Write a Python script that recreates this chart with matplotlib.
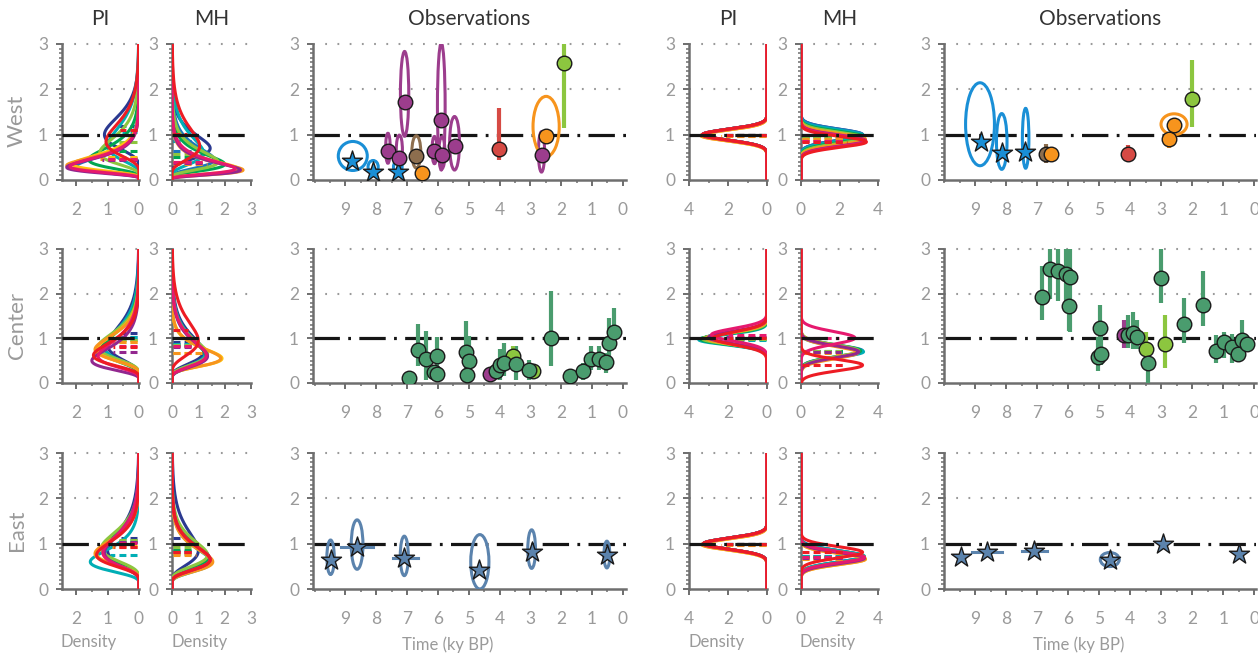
import numpy as np
import matplotlib
matplotlib.use("Agg")
import matplotlib.pyplot as plt
from matplotlib.patches import Ellipse
from matplotlib.ticker import MultipleLocator

plt.rcParams["font.family"] = ["Lato", "DejaVu Sans"]
plt.rcParams["lines.scale_dashes"] = False

W, H = 1258, 655

regions = ["West", "Center", "East"]

# model colours: navy, blue, cyan, green, light green, yellow, orange, purple, magenta, red
model_colors = ["#2b3990", "#1c75bc", "#00aeb5", "#00a651", "#8dc63f",
                "#ffc20e", "#f7941d", "#92278f", "#e6196e", "#ed1c24"]

# left block (skewed densities): mode and peak density per model, rows West/Center/East
left_pi_mode = [[1.0, 0.3, 0.75, 0.45, 0.6, 0.35, 0.32, 0.28, 0.3, 0.85],
                [0.85, 0.8, 0.8, 0.75, 0.8, 0.75, 0.75, 0.5, 0.6, 0.62],
                [0.85, 0.8, 0.6, 0.85, 0.9, 0.78, 0.78, 0.8, 0.8, 0.75]]
left_pi_peak = [[1.1, 2.0, 1.0, 1.6, 1.25, 2.1, 2.3, 2.3, 2.2, 1.05],
                [1.0, 1.1, 1.1, 1.2, 1.3, 1.35, 1.4, 1.5, 1.3, 1.45],
                [1.0, 1.1, 1.55, 1.15, 1.2, 1.35, 1.4, 1.1, 1.15, 1.35]]
left_mh_mode = [[0.7, 0.45, 0.6, 0.35, 0.4, 0.25, 0.22, 0.22, 0.25, 0.75],
                [0.7, 0.65, 0.65, 0.6, 0.65, 0.55, 0.55, 0.6, 0.62, 0.95],
                [0.85, 0.65, 0.6, 0.7, 0.75, 0.62, 0.6, 0.65, 0.65, 0.65]]
left_mh_peak = [[1.45, 1.6, 1.2, 2.0, 1.75, 2.5, 2.7, 2.6, 2.4, 1.05],
                [1.2, 1.3, 1.25, 1.3, 1.35, 1.9, 1.85, 1.35, 1.3, 1.0],
                [1.0, 1.4, 1.5, 1.4, 1.35, 1.5, 1.55, 1.45, 1.45, 1.45]]

# right block (near-gaussian densities): mean and peak density per model
right_pi_mean = [[1.0, 1.0, 1.0, 1.0, 1.0, 0.98, 0.98, 1.0, 1.0, 1.0],
                 [1.0, 1.0, 0.97, 0.98, 0.99, 1.0, 1.0, 1.02, 1.08, 1.0],
                 [1.0, 1.0, 1.0, 1.0, 1.0, 0.98, 0.98, 1.0, 1.0, 1.0]]
right_pi_peak = [[3.3, 3.3, 3.3, 3.3, 3.3, 3.35, 3.4, 3.3, 3.3, 3.3],
                 [3.2, 3.2, 3.5, 3.4, 3.3, 3.1, 3.1, 3.0, 2.85, 2.75],
                 [3.25, 3.25, 3.25, 3.25, 3.25, 3.3, 3.35, 3.25, 3.25, 3.25]]
right_mh_mean = [[1.0, 1.0, 0.98, 0.95, 0.93, 0.9, 0.9, 0.87, 0.86, 0.84],
                 [0.7, 0.72, 0.7, 0.72, 0.72, 0.7, 0.68, 0.7, 1.01, 0.4],
                 [0.72, 0.72, 0.72, 0.7, 0.7, 0.66, 0.66, 0.68, 0.7, 0.81]]
right_mh_peak = [[3.2, 3.2, 3.25, 3.3, 3.3, 3.35, 3.35, 3.35, 3.35, 3.4],
                 [3.1, 3.2, 3.25, 3.1, 3.0, 2.9, 2.95, 3.0, 2.8, 3.2],
                 [3.2, 3.25, 3.3, 3.3, 3.3, 3.35, 3.35, 3.3, 3.3, 3.2]]

# observation categories -> colour, marker
cat_color = {"c1": "#1a8fd6", "c2": "#9c3d8d", "c3": "#8d6e4e", "c4": "#f7941d",
             "c5": "#d64a44", "c6": "#8cc63f", "c7": "#4a9c6e", "c8": "#5b83ad"}
cat_marker = {"c1": "*", "c2": "o", "c3": "o", "c4": "o",
              "c5": "o", "c6": "o", "c7": "o", "c8": "*"}

# observations, left block: (time ky BP, value, category)
obs_left_points = [
    [(8.78, 0.43, "c1"), (8.11, 0.18, "c1"), (7.3, 0.18, "c1"),
     (7.62, 0.63, "c2"), (7.25, 0.48, "c2"), (7.08, 1.73, "c2"), (6.7, 0.53, "c3"),
     (6.51, 0.16, "c4"), (6.11, 0.63, "c2"), (5.89, 1.32, "c2"), (5.87, 0.55, "c2"),
     (5.46, 0.75, "c2"), (4.02, 0.68, "c5"), (2.64, 0.55, "c2"), (2.48, 0.96, "c4"),
     (1.92, 2.59, "c6")],
    [(6.93, 0.11, "c7"), (6.63, 0.73, "c7"), (6.39, 0.54, "c7"), (6.14, 0.25, "c7"),
     (6.03, 0.6, "c7"), (6.03, 0.21, "c7"), (5.09, 0.69, "c7"), (5.0, 0.49, "c7"),
     (5.04, 0.17, "c7"), (4.3, 0.21, "c2"), (4.12, 0.26, "c7"), (3.98, 0.41, "c7"),
     (3.58, 0.6, "c6"), (3.85, 0.45, "c7"), (3.47, 0.43, "c7"), (2.93, 0.26, "c6"),
     (3.06, 0.28, "c7"), (2.32, 1.0, "c7"), (1.73, 0.15, "c7"), (1.29, 0.26, "c7"),
     (1.05, 0.54, "c7"), (0.78, 0.54, "c7"), (0.56, 0.47, "c7"), (0.45, 0.9, "c7"),
     (0.29, 1.14, "c7")],
    [(9.48, 0.65, "c8"), (8.62, 0.92, "c8"), (7.09, 0.69, "c8"), (4.67, 0.43, "c8"),
     (2.96, 0.82, "c8"), (0.52, 0.75, "c8")],
]
# uncertainty ellipses: (centre time, centre value, time width, value height, category)
obs_left_ellipses = [
    [(8.76, 0.53, 0.94, 0.64, "c1"), (8.1, 0.29, 0.33, 0.28, "c1"), (7.3, 0.29, 0.28, 0.26, "c1"),
     (7.62, 0.7, 0.15, 0.66, "c2"), (7.25, 0.66, 0.2, 0.66, "c2"), (7.08, 1.9, 0.27, 1.87, "c2"),
     (6.7, 0.62, 0.29, 0.71, "c3"), (6.11, 0.66, 0.16, 0.6, "c2"), (5.89, 1.62, 0.25, 2.8, "c2"),
     (5.87, 0.6, 0.2, 0.7, "c2"), (5.46, 0.81, 0.32, 1.18, "c2"), (2.64, 0.62, 0.2, 0.89, "c2"),
     (2.49, 1.18, 0.85, 1.33, "c4")],
    [],
    [(9.48, 0.7, 0.24, 0.76, "c8"), (8.62, 0.98, 0.38, 1.09, "c8"), (7.09, 0.73, 0.26, 0.87, "c8"),
     (4.64, 0.6, 0.59, 1.2, "c8"), (2.96, 0.88, 0.25, 0.85, "c8"), (0.52, 0.76, 0.19, 0.59, "c8")],
]
# vertical error bars: (time, low, high, category)
obs_left_vbars = [
    [(4.02, 0.44, 1.58, "c5"), (1.92, 1.14, 3.0, "c6")],
    [(6.63, 0.37, 1.31, "c7"), (6.39, 0.07, 1.16, "c7"), (6.03, 0.3, 1.04, "c7"),
     (5.09, 0.3, 1.38, "c7"), (5.0, 0.3, 1.05, "c7"), (3.98, 0.07, 0.75, "c7"),
     (3.85, 0.15, 0.9, "c7"), (3.47, 0.07, 0.82, "c7"), (3.06, 0.07, 0.52, "c7"),
     (2.32, 0.37, 2.05, "c7"), (1.29, 0.07, 0.45, "c7"), (1.05, 0.3, 0.82, "c7"),
     (0.78, 0.3, 0.82, "c7"), (0.56, 0.22, 0.67, "c7"), (0.45, 0.52, 1.46, "c7"),
     (0.29, 0.75, 1.68, "c7"), (3.58, 0.34, 0.82, "c6")],
    [],
]
# horizontal (age) error bars: (value, time start, time end, category)
obs_left_hbars = [[], [], [(0.92, 9.14, 8.11, "c8"), (0.69, 7.47, 6.66, "c8")]]

# observations, right block
obs_right_points = [
    [(8.82, 0.84, "c1"), (8.13, 0.59, "c1"), (7.38, 0.62, "c1"), (6.73, 0.57, "c3"),
     (6.54, 0.57, "c4"), (4.08, 0.57, "c5"), (2.76, 0.9, "c4"), (2.58, 1.21, "c4"),
     (2.0, 1.78, "c6")],
    [(6.84, 1.92, "c7"), (6.57, 2.56, "c7"), (6.33, 2.51, "c7"), (6.06, 2.43, "c7"),
     (5.93, 2.37, "c7"), (5.98, 1.72, "c7"), (4.96, 1.23, "c7"), (5.04, 0.58, "c7"),
     (4.94, 0.65, "c7"), (4.2, 1.07, "c2"), (4.06, 1.08, "c7"), (3.91, 1.12, "c7"),
     (3.77, 1.02, "c7"), (3.5, 0.77, "c6"), (3.42, 0.45, "c7"), (3.0, 2.34, "c7"),
     (2.88, 0.88, "c6"), (2.26, 1.32, "c7"), (1.67, 1.74, "c7"), (1.24, 0.72, "c7"),
     (0.99, 0.91, "c7"), (0.73, 0.8, "c7"), (0.52, 0.66, "c7"), (0.4, 0.97, "c7"),
     (0.25, 0.87, "c7")],
    [(9.45, 0.71, "c8"), (8.63, 0.81, "c8"), (7.09, 0.84, "c8"), (4.66, 0.65, "c8"),
     (2.95, 1.0, "c8"), (0.51, 0.78, "c8")],
]
obs_right_ellipses = [
    [(8.84, 1.23, 0.93, 1.83, "c1"), (8.14, 0.85, 0.34, 1.23, "c1"),
     (7.37, 0.92, 0.21, 1.32, "c1"), (2.59, 1.23, 0.84, 0.46, "c4")],
    [],
    [(4.66, 0.65, 0.61, 0.31, "c8")],
]
obs_right_vbars = [
    [(6.73, 0.37, 0.8, "c3"), (4.08, 0.45, 0.77, "c5"), (2.76, 0.7, 0.95, "c4"),
     (2.0, 1.18, 2.65, "c6")],
    [(6.84, 1.42, 2.61, "c7"), (6.57, 1.87, 3.0, "c7"), (6.33, 1.83, 3.0, "c7"),
     (6.06, 1.6, 3.0, "c7"), (5.93, 1.15, 3.0, "c7"), (5.98, 1.16, 2.39, "c7"),
     (4.96, 0.67, 1.75, "c7"), (5.04, 0.26, 1.04, "c7"), (4.94, 0.4, 1.1, "c7"),
     (4.2, 0.78, 1.42, "c2"), (4.06, 0.78, 1.52, "c7"), (3.91, 0.75, 1.58, "c7"),
     (3.77, 0.75, 1.4, "c7"), (3.42, 0.01, 0.82, "c7"), (3.0, 1.79, 3.0, "c7"),
     (3.5, 0.4, 1.15, "c6"), (2.88, 0.34, 1.53, "c6"), (2.26, 0.9, 1.9, "c7"),
     (1.67, 1.27, 2.5, "c7"), (1.24, 0.45, 1.08, "c7"), (0.99, 0.55, 1.15, "c7"),
     (0.73, 0.45, 1.1, "c7"), (0.52, 0.5, 0.9, "c7"), (0.4, 0.52, 1.42, "c7")],
    [],
]
obs_right_hbars = [[], [], [(0.81, 9.1, 8.12, "c8"), (0.84, 7.48, 6.68, "c8")]]

# ---- styling constants
axis_grey = "#6e6e6e"
label_grey = "#9a9a9a"
grid_grey = "#9a9a9a"
title_col = "#333333"

# panel placement in pixels: columns (x0, x1), rows (top, bottom)
col_px = {"pi_l": (62, 139), "mh_l": (172, 251), "obs_l": (313, 626),
          "pi_r": (689, 767), "mh_r": (801, 878), "obs_r": (944, 1256)}
row_px = [(44, 180), (249, 383), (453, 589)]

yy = np.linspace(0.001, 3, 600)
s_grid = np.linspace(0.05, 2.0, 2000)
f_grid = np.exp(-s_grid ** 2 / 2) / s_grid


def lognormal_curve(mode, peak):
    s = np.interp(peak * mode * np.sqrt(2 * np.pi), f_grid[::-1], s_grid[::-1])
    mu = np.log(mode) + s ** 2
    dens = np.exp(-(np.log(yy) - mu) ** 2 / (2 * s ** 2)) / (yy * s * np.sqrt(2 * np.pi))
    return dens, np.exp(mu + s ** 2 / 2)


def normal_curve(mean, peak):
    sd = 1 / (peak * np.sqrt(2 * np.pi))
    dens = np.exp(-(yy - mean) ** 2 / (2 * sd ** 2)) / (sd * np.sqrt(2 * np.pi))
    return dens, mean


def make_axes(col, row):
    x0, x1 = col_px[col]
    top, bot = row_px[row]
    return fig.add_axes([x0 / W, 1 - bot / H, (x1 - x0) / W, (bot - top) / H])


def style_axes(ax, xlim, xmajor, xminor, line_z):
    ax.set_xlim(*xlim)
    ax.set_ylim(0, 3)
    for side in ("top", "right"):
        ax.spines[side].set_visible(False)
    for side in ("left", "bottom"):
        ax.spines[side].set_color(axis_grey)
        ax.spines[side].set_linewidth(1.8)
    ax.set_yticks([0, 1, 2, 3])
    ax.yaxis.set_minor_locator(MultipleLocator(0.1))
    ax.set_xticks(xmajor)
    ax.xaxis.set_minor_locator(MultipleLocator(xminor))
    ax.tick_params(which="major", length=4, width=1.4, color=axis_grey,
                   labelcolor=label_grey, labelsize=12.5)
    ax.tick_params(which="minor", length=2.5, width=1.1, color=axis_grey)
    ax.tick_params(axis="x", which="major", pad=12)
    ax.tick_params(axis="y", which="major", pad=6)
    for gy in (2, 3):
        ax.axhline(gy, color=grid_grey, lw=1.5, dashes=(1.3, 7.5), clip_on=False, zorder=1)
    ax.axhline(1, color="#151515", lw=2.3, dashes=(19, 6, 2, 6), zorder=line_z)


def density_panel(ax, centres, peaks, kind):
    for c, (m, p) in enumerate(zip(centres, peaks)):
        dens, mean = lognormal_curve(m, p) if kind == "skew" else normal_curve(m, p)
        ax.plot(dens, yy, color=model_colors[c], lw=2.2, zorder=3)
        dlen = np.interp(mean, yy, dens) * 0.7
        ax.plot([0.05, dlen], [mean, mean], color=model_colors[c], lw=2.2,
                dashes=(5, 3), zorder=3)


def obs_panel(ax, points, ellipses, vbars, hbars):
    for (cx, cy, w, h, cat) in ellipses:
        ax.add_patch(Ellipse((cx, cy), w, h, fill=False, ec=cat_color[cat], lw=2.2, zorder=3))
    for (x, lo, hi, cat) in vbars:
        ax.plot([x, x], [lo, hi], color=cat_color[cat], lw=3, solid_capstyle="butt", zorder=3)
    for (yv, xa, xb, cat) in hbars:
        ax.plot([xa, xb], [yv, yv], color=cat_color[cat], lw=2.2, zorder=3)
    for (x, yv, cat) in points:
        star = cat_marker[cat] == "*"
        ax.scatter(x, yv, s=230 if star else 110, marker=cat_marker[cat],
                   color=cat_color[cat], edgecolor="#1a1a1a", linewidth=1.0, zorder=5)


fig = plt.figure(figsize=(W / 100, H / 100), dpi=100)

for r in range(3):
    ax = make_axes("pi_l", r)
    style_axes(ax, (2.45, 0), [0, 1, 2], 0.5, 6)
    density_panel(ax, left_pi_mode[r], left_pi_peak[r], "skew")

    ax = make_axes("mh_l", r)
    style_axes(ax, (0, 3), [0, 1, 2, 3], 0.5, 6)
    density_panel(ax, left_mh_mode[r], left_mh_peak[r], "skew")

    ax = make_axes("obs_l", r)
    style_axes(ax, (10.05, -0.1), list(range(10)), 0.5, 2)
    obs_panel(ax, obs_left_points[r], obs_left_ellipses[r], obs_left_vbars[r], obs_left_hbars[r])

    ax = make_axes("pi_r", r)
    style_axes(ax, (4, 0), [0, 2, 4], 1, 6)
    density_panel(ax, right_pi_mean[r], right_pi_peak[r], "normal")

    ax = make_axes("mh_r", r)
    style_axes(ax, (0, 4), [0, 2, 4], 1, 6)
    density_panel(ax, right_mh_mean[r], right_mh_peak[r], "normal")

    ax = make_axes("obs_r", r)
    style_axes(ax, (10.0, -0.05), list(range(10)), 0.5, 2)
    obs_panel(ax, obs_right_points[r], obs_right_ellipses[r], obs_right_vbars[r], obs_right_hbars[r])

# column titles
for key, name in [("pi_l", "PI"), ("mh_l", "MH"), ("obs_l", "Observations"),
                  ("pi_r", "PI"), ("mh_r", "MH"), ("obs_r", "Observations")]:
    x0, x1 = col_px[key]
    fig.text((x0 + x1) / 2 / W, 1 - 19 / H, name, ha="center", va="center",
             fontsize=15, color=title_col)

# row labels
for r, name in enumerate(regions):
    top, bot = row_px[r]
    fig.text(17 / W, 1 - ((top + bot) / 2 + 9) / H, name, rotation=90,
             ha="center", va="center", fontsize=16, color=label_grey)

# bottom axis labels
for xc in (89, 200, 717, 828):
    fig.text(xc / W, 1 - 642 / H, "Density", ha="center", va="center",
             fontsize=12, color=label_grey)
for xc in (448, 1079):
    fig.text(xc / W, 1 - 645 / H, "Time (ky BP)", ha="center", va="center",
             fontsize=12, color=label_grey)

fig.savefig("out.png", dpi=100)
